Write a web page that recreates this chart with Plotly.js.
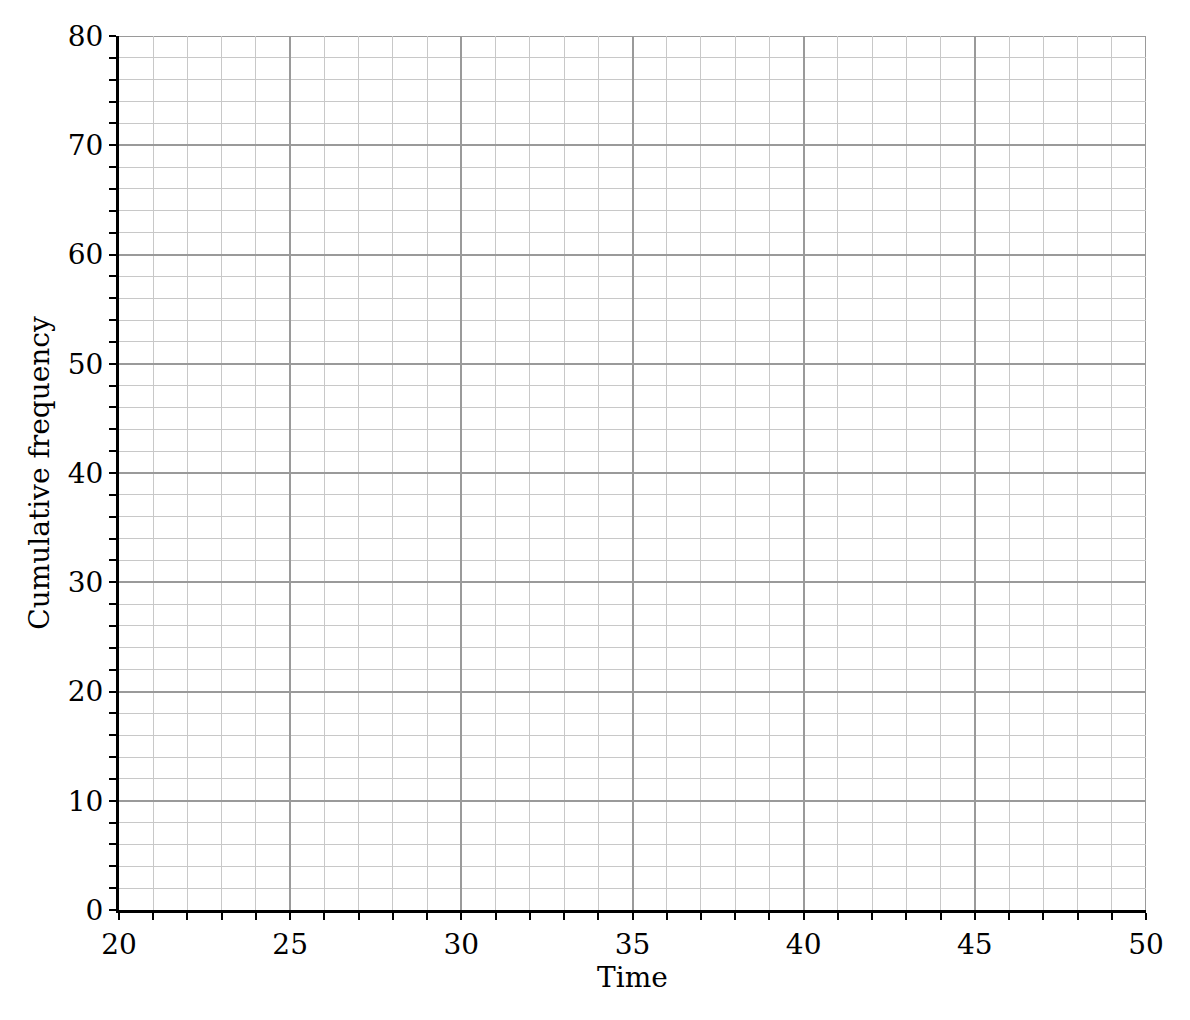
<!DOCTYPE html>
<html>
<head>
<meta charset="utf-8">
<script src="https://cdn.plot.ly/plotly-3.0.1.min.js"></script>
<style>
    html, body { margin: 0; padding: 0; background: #fff; }
    #chart { width: 1190px; height: 1020px; }
</style>
</head>
<body>
<div id="chart"></div>
<script>
// Blank cumulative frequency grid - no data plotted yet
const timeValues = []
const cumFreqValues = []

const xRange = [20, 50]
const yRange = [0, 80]
const xTickVals = [20, 25, 30, 35, 40, 45, 50]
const yTickVals = [0, 10, 20, 30, 40, 50, 60, 70, 80]

const serif = "DejaVu Serif, serif"
const majorGrid = "#9a9a9a"

const trace = {
    x: timeValues,
    y: cumFreqValues,
    type: "scatter",
    mode: "lines",
    line: { color: "#000", width: 2 },
    showlegend: false,
}

const axisCommon = {
    showline: true,
    linecolor: "#000",
    linewidth: 3,
    ticks: "outside",
    ticklen: 7,
    tickwidth: 2,
    tickcolor: "#000",
    showgrid: true,
    gridcolor: majorGrid,
    gridwidth: 2,
    zeroline: false,
    layer: "above traces",
    tickfont: { family: serif, size: 28, color: "#000" },
}

// far-edge grid lines (plotly skips the ones sitting on the plot border)
const edgeLines = [
    { type: "line", xref: "x", yref: "paper", x0: xRange[1], x1: xRange[1], y0: 0, y1: 1, line: { color: majorGrid, width: 2 }, layer: "below" },
    { type: "line", xref: "paper", yref: "y", x0: 0, x1: 1, y0: yRange[1], y1: yRange[1], line: { color: majorGrid, width: 2 }, layer: "below" },
]

const layout = {
    width: 1190,
    height: 1020,
    paper_bgcolor: "#fff",
    plot_bgcolor: "#fff",
    margin: { l: 119, r: 44, t: 36, b: 110 },
    shapes: edgeLines,
    xaxis: {
        ...axisCommon,
        range: xRange,
        tickvals: xTickVals,
        title: { text: "Time", font: { family: serif, size: 28, color: "#000" }, standoff: 8 },
        minor: { dtick: 1, ticks: "outside", ticklen: 7, tickwidth: 2, tickcolor: "#000", showgrid: true, gridcolor: "#c8c8c8", gridwidth: 1 },
    },
    yaxis: {
        ...axisCommon,
        range: yRange,
        tickvals: yTickVals,
        title: { text: "Cumulative frequency", font: { family: serif, size: 28, color: "#000" }, standoff: 10 },
        minor: { dtick: 2, ticks: "outside", ticklen: 7, tickwidth: 2, tickcolor: "#000", showgrid: true, gridcolor: "#c8c8c8", gridwidth: 1 },
    },
}

Plotly.newPlot("chart", [trace], layout, { displayModeBar: false, staticPlot: true })
</script>
</body>
</html>
